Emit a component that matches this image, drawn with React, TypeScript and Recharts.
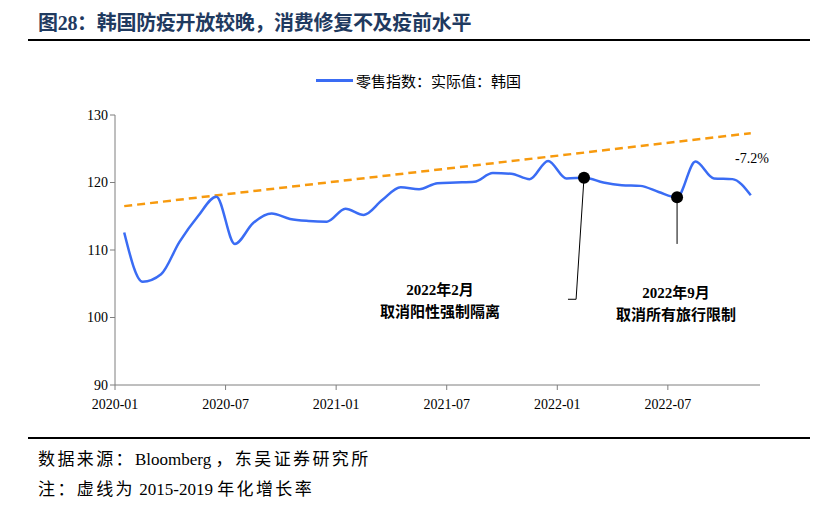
import React from 'react';
import { LineChart, Line, XAxis, YAxis, ReferenceLine, ReferenceDot } from 'recharts';

// monthly categories, 2020-01 .. 2022-11
const months = [
  '2020-01', '2020-02', '2020-03', '2020-04', '2020-05', '2020-06', '2020-07', '2020-08', '2020-09', '2020-10', '2020-11', '2020-12',
  '2021-01', '2021-02', '2021-03', '2021-04', '2021-05', '2021-06', '2021-07', '2021-08', '2021-09', '2021-10', '2021-11', '2021-12',
  '2022-01', '2022-02', '2022-03', '2022-04', '2022-05', '2022-06', '2022-07', '2022-08', '2022-09', '2022-10', '2022-11',
];

// 零售指数：实际值：韩国
const retail = [
  112.6, 105.3, 106.4, 111.2, 115.0, 117.9, 110.9, 114.0, 115.4, 114.6, 114.3, 114.2,
  116.1, 115.2, 117.4, 119.3, 119.0, 119.9, 120.0, 120.1, 121.4, 121.3, 120.5, 123.2,
  120.6, 120.7, 120.0, 119.6, 119.5, 118.6, 117.8, 123.1, 120.6, 120.5, 118.1,
];

// 2015-2019 trend line, start and end values
const trendStart = 116.5;
const trendEnd = 127.3;

const xTickLabels = ['2020-01', '2020-07', '2021-01', '2021-07', '2022-01', '2022-07'];
const xTicks = [0, 6, 12, 18, 24, 30];
const yTicks = [90, 100, 110, 120, 130];

const FONT = "'Liberation Serif', 'Noto Sans CJK SC', serif";
const BLUE = '#3a6cf4';
const ORANGE = '#f79a0e';

const data = months.map((m, i) => ({ x: i + 0.5, month: m, v: retail[i] }));
const trendData = [
  { x: 0.5, t: trendStart },
  { x: months.length - 0.5, t: trendEnd },
];

const febIdx = 25;
const julIdx = 30;

const cjk = { letterSpacing: 2.4 };

export default function App() {
  return (
    <div style={{ position: 'absolute', left: 0, top: 0, width: 830, height: 506, background: '#fff', fontFamily: FONT }}>
      <div style={{ position: 'absolute', left: 38, top: 7, fontSize: 20, fontWeight: 700, color: '#1f3a60', whiteSpace: 'nowrap', letterSpacing: -0.3 }}>
        图28：韩国防疫开放较晚，消费修复不及疫前水平
      </div>
      <div style={{ position: 'absolute', left: 28, top: 39, width: 782, height: 2, background: '#000' }} />

      <div style={{ position: 'absolute', left: 316, top: 70, display: 'flex', alignItems: 'center', fontSize: 15, whiteSpace: 'nowrap' }}>
        <span style={{ display: 'inline-block', width: 37, height: 2.5, background: BLUE, marginRight: 3 }} />
        零售指数：实际值：韩国
      </div>

      <LineChart width={830} height={506} data={data} margin={{ top: 115, right: 70, left: 60, bottom: 91 }} style={{ position: 'absolute', left: 0, top: 0 }}>
        <XAxis
          dataKey="x"
          type="number"
          domain={[0, 35]}
          ticks={xTicks}
          tickFormatter={(v: number) => xTickLabels[xTicks.indexOf(v)] ?? ''}
          axisLine={{ stroke: '#7f7f7f' }}
          tickLine={{ stroke: '#7f7f7f' }}
          tickSize={5}
          tickMargin={9}
          tick={{ fill: '#000', fontSize: 14, fontFamily: FONT }}
          allowDataOverflow
        />
        <YAxis
          width={55}
          domain={[90, 130]}
          ticks={yTicks}
          axisLine={{ stroke: '#7f7f7f' }}
          tickLine={{ stroke: '#7f7f7f' }}
          tickSize={5}
          tick={{ fill: '#000', fontSize: 14, fontFamily: FONT }}
        />
        <Line
          data={trendData}
          dataKey="t"
          type="linear"
          stroke={ORANGE}
          strokeWidth={2.5}
          strokeDasharray="8 5"
          dot={false}
          isAnimationActive={false}
        />
        <Line dataKey="v" type="monotone" stroke={BLUE} strokeWidth={2.5} dot={false} isAnimationActive={false} />
        <ReferenceLine
          segment={[
            { x: febIdx + 0.45, y: retail[febIdx] },
            { x: 25.02, y: 102.7 },
          ]}
          stroke="#000"
          strokeWidth={1}
        />
        <ReferenceLine
          segment={[
            { x: 25.02, y: 102.7 },
            { x: 24.58, y: 102.7 },
          ]}
          stroke="#000"
          strokeWidth={1}
        />
        <ReferenceLine
          segment={[
            { x: julIdx + 0.5, y: retail[julIdx] },
            { x: julIdx + 0.5, y: 110.9 },
          ]}
          stroke="#000"
          strokeWidth={1}
        />
        <ReferenceDot x={febIdx + 0.45} y={retail[febIdx]} r={6} fill="#000" stroke="none" />
        <ReferenceDot x={julIdx + 0.5} y={retail[julIdx]} r={6} fill="#000" stroke="none" />
      </LineChart>

      <div style={{ position: 'absolute', left: 335, top: 279, width: 210, textAlign: 'center', fontSize: 15, fontWeight: 700, lineHeight: '22px' }}>
        2022年2月
        <br />
        取消阳性强制隔离
      </div>
      <div style={{ position: 'absolute', left: 571, top: 282, width: 210, textAlign: 'center', fontSize: 15, fontWeight: 700, lineHeight: '22px' }}>
        2022年9月
        <br />
        取消所有旅行限制
      </div>
      <div style={{ position: 'absolute', left: 735, top: 151, fontSize: 14 }}>-7.2%</div>

      <div style={{ position: 'absolute', left: 28, top: 437, width: 782, height: 2, background: '#000' }} />
      <div style={{ position: 'absolute', left: 38, top: 445, fontSize: 17, whiteSpace: 'nowrap' }}>
        <span style={cjk}>数据来源：</span>Bloomberg <span style={cjk}>，东吴证券研究所</span>
      </div>
      <div style={{ position: 'absolute', left: 38, top: 475, fontSize: 17, whiteSpace: 'nowrap' }}>
        <span style={cjk}>注：虚线为</span> 2015-2019 <span style={cjk}>年化增长率</span>
      </div>
    </div>
  );
}
